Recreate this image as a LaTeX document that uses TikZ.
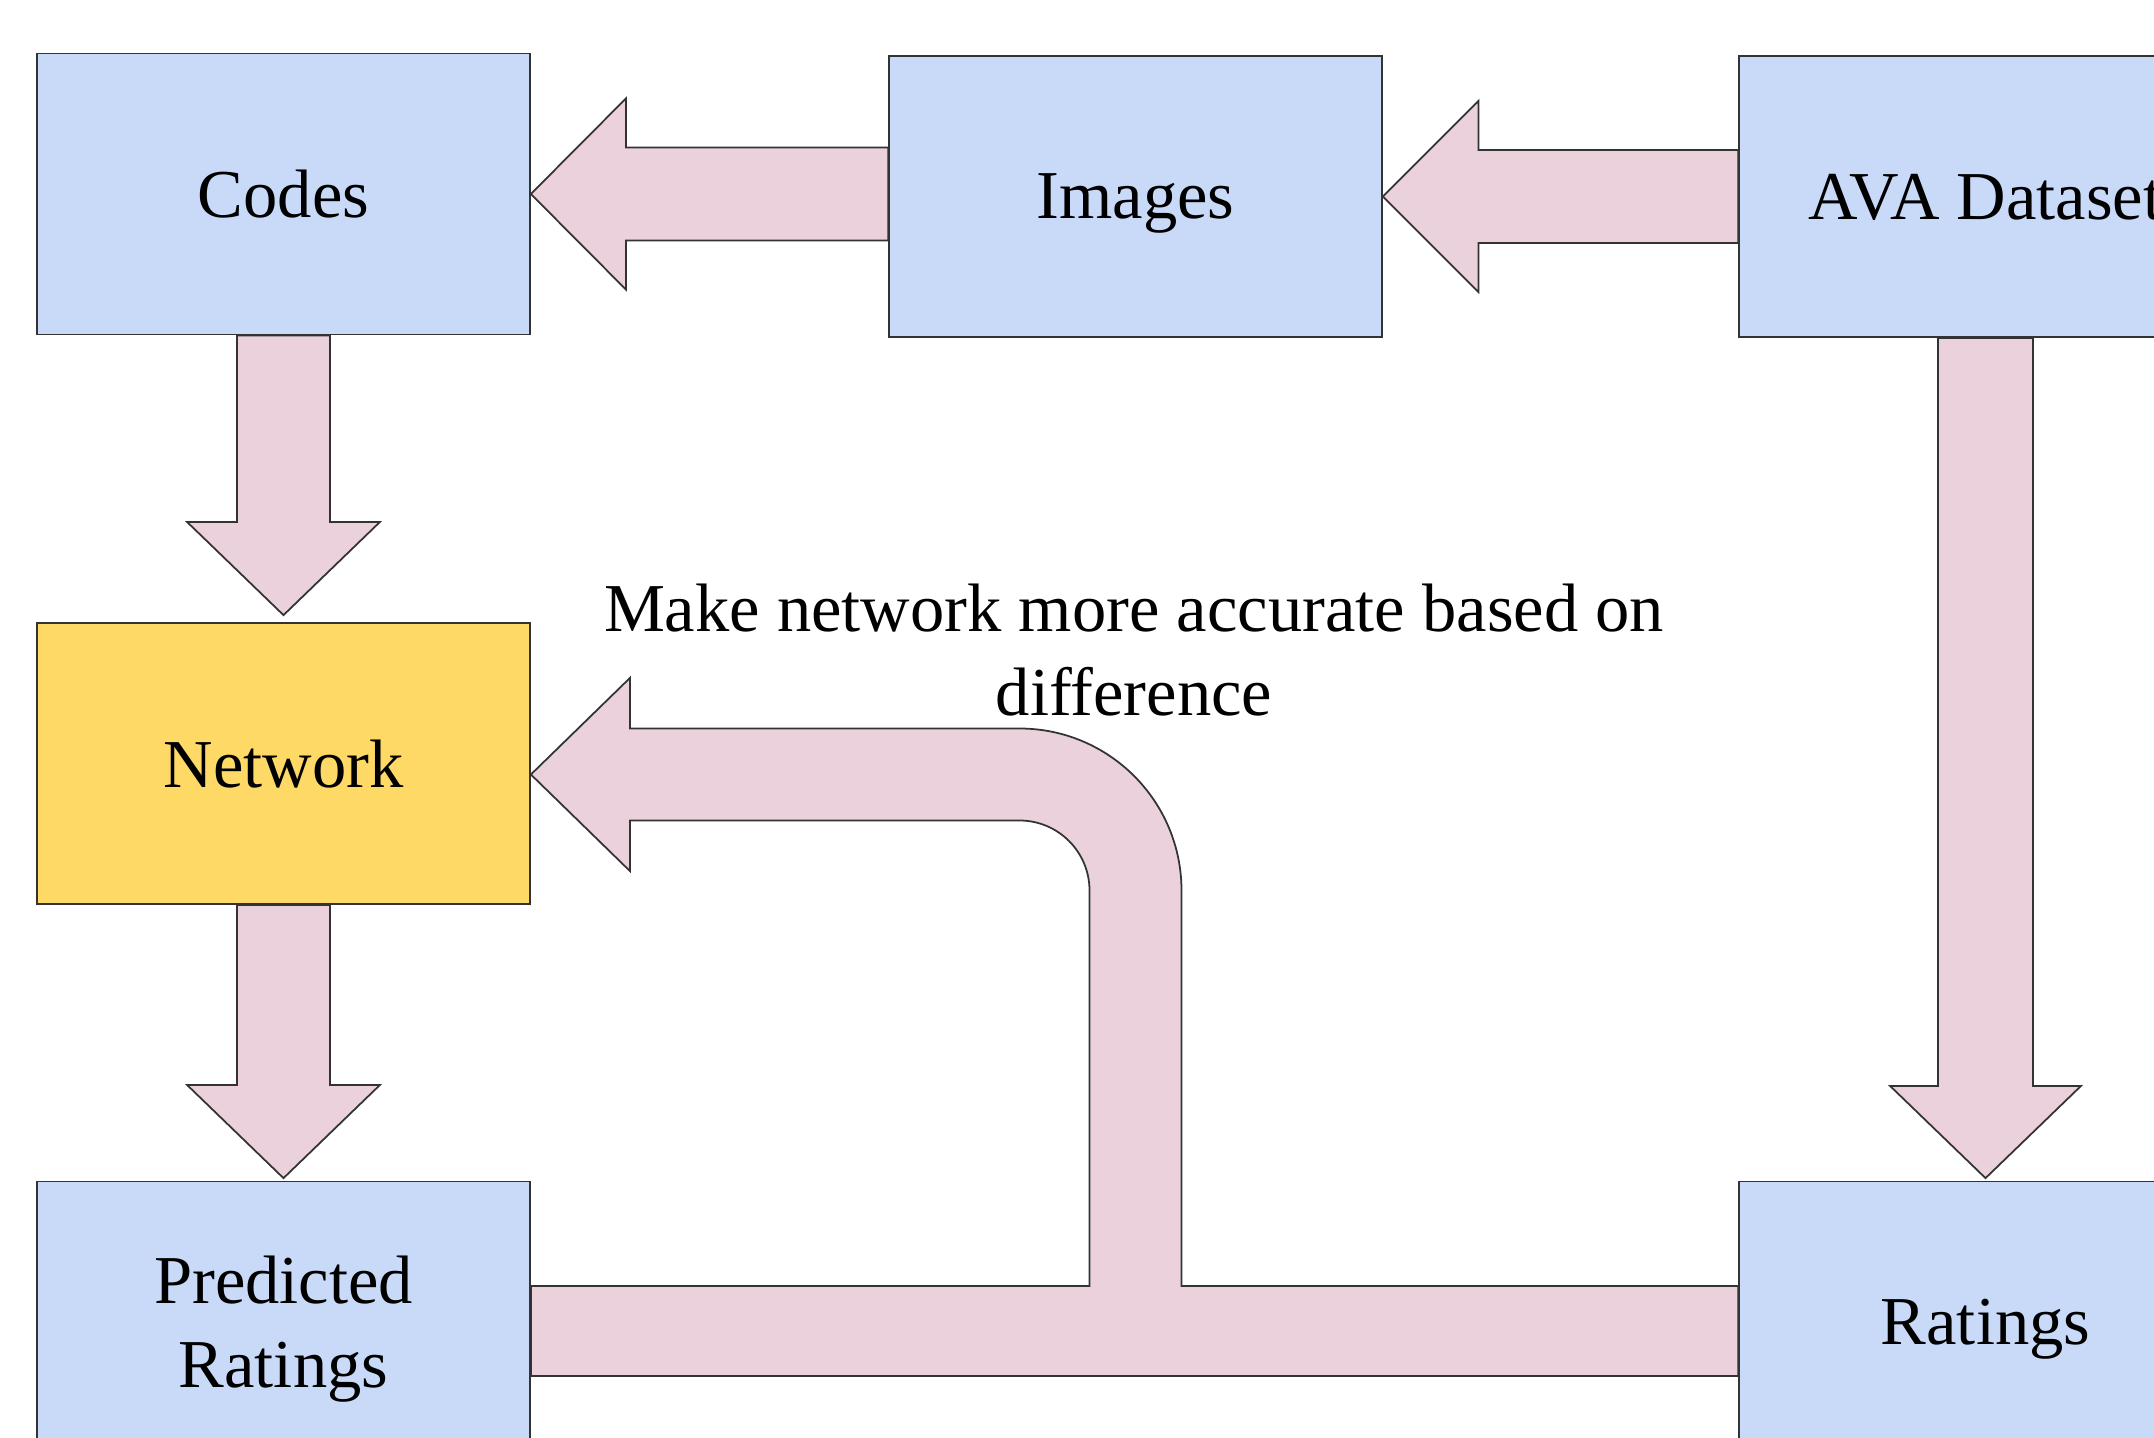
\documentclass[tikz,border=0pt]{standalone}
\usepackage{fontspec}
\setmainfont{Liberation Serif}
\usetikzlibrary{calc}
\definecolor{boxblue}{HTML}{C9DAF8}
\definecolor{boxyellow}{HTML}{FFD966}
\definecolor{arrowpink}{HTML}{EAD1DC}
\definecolor{edgecol}{HTML}{333333}
\begin{document}
\begin{tikzpicture}[
  txt/.style={font=\fontsize{19.5}{24}\selectfont, align=center},
  box/.style={txt, draw=edgecol, line width=0.5pt, minimum width=4.93cm, minimum height=2.81cm, inner sep=0pt, text depth=0pt},
  bluebox/.style={box, fill=boxblue},
  yellowbox/.style={box, fill=boxyellow},
  fat/.style={draw=edgecol, line width=0.5pt, fill=arrowpink, line join=miter},
]
\useasboundingbox (0,0) rectangle (21.54,-14.38);
\clip (0,0) rectangle (21.54,-14.38);

\node[bluebox] (codes) at (2.835,-1.94) {Codes};
\node[bluebox] (images) at (11.355,-1.965) {Images};
\node[bluebox] (ava) at (19.855,-1.965) {AVA Dataset};
\node[yellowbox] (network) at (2.835,-7.635) {Network};
\node[bluebox] (pred) at (2.835,-13.22) {Predicted\\Ratings};
\node[bluebox] (ratings) at (19.855,-13.22) {Ratings};

\node[txt] (note) at (11.34,-6.50) {Make network more accurate based on\\difference};

% Images -> Codes
\draw[fat] let \p1=(codes.east), \p2=(images.west) in
  (\x1,\y1) -- (\x1+0.95cm,\y1+0.955cm) -- (\x1+0.95cm,\y1+0.465cm)
  -- (\x2,\y1+0.465cm) -- (\x2,\y1-0.465cm) -- (\x1+0.95cm,\y1-0.465cm)
  -- (\x1+0.95cm,\y1-0.955cm) -- cycle;

% AVA -> Images
\draw[fat] let \p1=(images.east), \p2=(ava.west) in
  (\x1,\y1) -- (\x1+0.955cm,\y1+0.955cm) -- (\x1+0.955cm,\y1+0.465cm)
  -- (\x2,\y1+0.465cm) -- (\x2,\y1-0.465cm) -- (\x1+0.955cm,\y1-0.465cm)
  -- (\x1+0.955cm,\y1-0.955cm) -- cycle;

% Codes -> Network
\draw[fat] let \p1=(codes.south), \p2=(network.north) in
  (\x1-0.465cm,\y1) -- (\x1-0.465cm,\y1-1.865cm) -- (\x1-0.965cm,\y1-1.865cm)
  -- (\x2,\y2+0.07cm) -- (\x1+0.965cm,\y1-1.865cm) -- (\x1+0.465cm,\y1-1.865cm)
  -- (\x1+0.465cm,\y1) -- cycle;

% Network -> Predicted
\draw[fat] let \p1=(network.south), \p2=(pred.north) in
  (\x1-0.465cm,\y1) -- (\x1-0.465cm,\y1-1.80cm) -- (\x1-0.965cm,\y1-1.80cm)
  -- (\x2,\y2+0.025cm) -- (\x1+0.965cm,\y1-1.80cm) -- (\x1+0.465cm,\y1-1.80cm)
  -- (\x1+0.465cm,\y1) -- cycle;

% AVA -> Ratings
\draw[fat] let \p1=(ava.south), \p2=(ratings.north) in
  (\x1-0.475cm,\y1) -- (\x1-0.475cm,\y1-7.48cm) -- (\x1-0.955cm,\y1-7.48cm)
  -- (\x2,\y2+0.025cm) -- (\x1+0.955cm,\y1-7.48cm) -- (\x1+0.475cm,\y1-7.48cm)
  -- (\x1+0.475cm,\y1) -- cycle;

% Feedback: Predicted + Ratings -> Network
\draw[fat] let \p1=(network.east), \p2=(pred.east), \p3=(ratings.west), \p4=(images.south) in
  (\x1,\y1-0.11cm)
  -- (\x1+0.99cm,\y1-0.11cm+0.965cm)
  -- (\x1+0.99cm,\y1-0.11cm+0.46cm)
  -- (\x4-1.16cm,\y1-0.11cm+0.46cm)
  arc[start angle=90,end angle=0,radius=1.62cm]
  -- (\x4+0.46cm,\y3+0.36cm)
  -- (\x3,\y3+0.36cm)
  -- (\x3,\y3-0.54cm)
  -- (\x2,\y3-0.54cm)
  -- (\x2,\y3+0.36cm)
  -- (\x4-0.46cm,\y3+0.36cm)
  -- (\x4-0.46cm,\y1-0.11cm-1.16cm)
  arc[start angle=0,end angle=90,radius=0.70cm]
  -- (\x1+0.99cm,\y1-0.11cm-0.46cm)
  -- (\x1+0.99cm,\y1-0.11cm-0.965cm)
  -- cycle;
\end{tikzpicture}
\end{document}
